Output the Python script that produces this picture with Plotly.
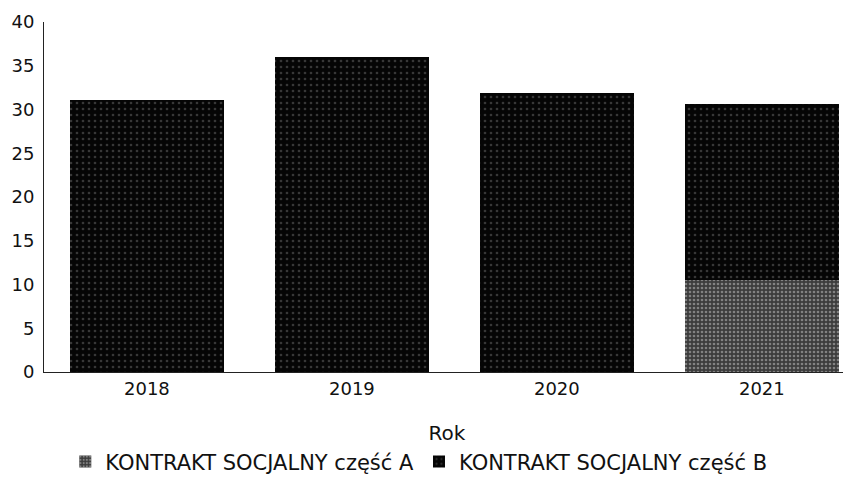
import plotly.graph_objects as go

years = ["2018", "2019", "2020", "2021"]
part_a = [0, 0, 0, 10.5]
part_b = [31.1, 36.0, 31.9, 20.1]
y_ticks = [0, 5, 10, 15, 20, 25, 30, 35, 40]

FONT = "DejaVu Sans, Verdana, sans-serif"

fig = go.Figure()
fig.add_trace(go.Bar(
    x=years, y=part_a, name="KONTRAKT SOCJALNY część A",
    marker=dict(color="#5e5e5e", line=dict(width=0),
                pattern=dict(shape=".", fgcolor="#c8c8c8", bgcolor="#3c3c3c", size=4, solidity=0.35)),
    width=0.75,
))
fig.add_trace(go.Bar(
    x=years, y=part_b, name="KONTRAKT SOCJALNY część B",
    marker=dict(color="#0a0a0a", line=dict(width=0),
                pattern=dict(shape=".", fgcolor="#6a6a6a", bgcolor="#050505", size=6, solidity=0.15)),
    width=0.75,
))

fig.update_layout(
    barmode="stack",
    width=843, height=478,
    margin=dict(l=36, r=1, t=14, b=114, autoexpand=False),
    plot_bgcolor="white", paper_bgcolor="white",
    font=dict(family=FONT, size=18, color="#111"),
    showlegend=True,
    legend=dict(orientation="h", x=0.465, xanchor="center", y=-0.198, yanchor="top",
                font=dict(size=21), itemwidth=30, traceorder="normal",
                itemsizing="constant", tracegroupgap=0),
)
fig.update_xaxes(
    type="category", range=[-0.502, 3.43], automargin=False,
    showline=True, linecolor="#222", linewidth=1,
    ticks="", showgrid=False,
    title=dict(text="Rok", font=dict(size=20), standoff=28),
    tickfont=dict(size=18),
)
fig.update_yaxes(
    range=[0, 40], tickvals=y_ticks, automargin=False,
    showline=True, linecolor="#222", linewidth=1,
    ticks="", showgrid=False, zeroline=False,
    tickfont=dict(size=18), ticklabelstandoff=5,
)

fig.write_html("out.html")
